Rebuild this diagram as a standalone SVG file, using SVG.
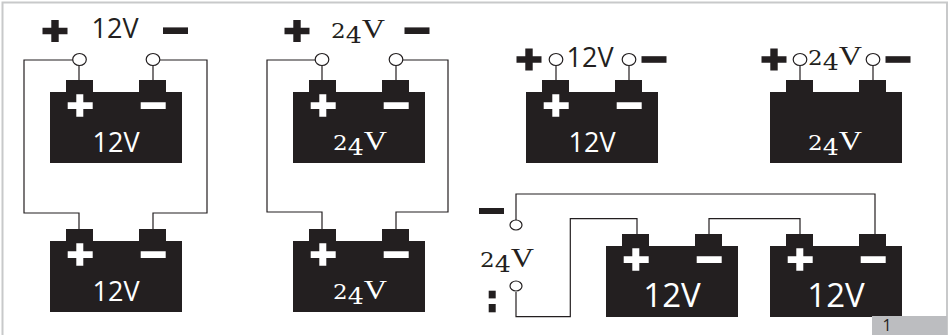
<svg xmlns="http://www.w3.org/2000/svg" width="948" height="335" viewBox="0 0 948 335">
<style>
.w{fill:none;stroke:#231f20;stroke-width:1.2}
.c{fill:#fff;stroke:#231f20;stroke-width:1.2}
.k{fill:#231f20}
.wf{fill:#fff}
text{font-family:"Open Sans","Noto Sans",sans-serif;font-size:27px;fill:#231f20;text-anchor:middle}
.s{font-family:"Liberation Serif",serif;font-size:28px;text-anchor:start}
.a{font-family:"DejaVu Serif",serif;font-size:20px}
.b{font-family:"DejaVu Serif",serif;font-size:22px}
.wt{fill:#fff}
</style>
<defs>
<path id="batt" d="M0 12H16V0H43V12H89V0H116V12H132V83H0Z" class="k"/>
<path id="signs" d="M26.300 14.300H33.300V22.300H42.700V29H33.300V36.700H26.300V29H17.700V22.300H26.300Z M90.700 22.300H115.700V29H90.700Z" class="wf"/>
<path id="plus" d="M-3.700 -11H3.700V-3.300H12.500V3.300H3.700V11H-3.700V3.300H-12.500V-3.300H-3.700Z" class="k"/>
<rect id="minus" x="-12.500" y="-3.300" width="25" height="6.600" class="k"/>
</defs>
<rect x="2.500" y="2.500" width="944.500" height="340" fill="#fff" stroke="#c8c9ca" stroke-width="2"/>
<g id="connectors">
<path class="w" d="M73 60H24V213H79V229"/>
<path class="w" d="M160 60H207V213H153V229"/>
<path class="w" d="M79 60V80M153 60V80"/>
<path class="w" d="M316 60H267V212H322V229"/>
<path class="w" d="M403 60H448V212H396V229"/>
<path class="w" d="M322 60V80M396 60V80"/>
<path class="w" d="M556 60V80M629 60V80M800 60V80M873 60V80"/>
<path class="w" d="M516 224V194H875V234"/>
<path class="w" d="M516 292V316.700H570.300V218.700H637V234"/>
<path class="w" d="M709 234V218.700H800V234"/>
</g>
<g id="terminals">
<ellipse class="c" cx="79.500" cy="59.500" rx="6.800" ry="6"/><ellipse class="c" cx="153" cy="59.500" rx="6.800" ry="6"/>
<ellipse class="c" cx="322" cy="59.500" rx="6.800" ry="6"/><ellipse class="c" cx="396" cy="59.500" rx="6.800" ry="6"/>
<ellipse class="c" cx="556" cy="59.500" rx="6.800" ry="6"/><ellipse class="c" cx="629" cy="59.500" rx="6.800" ry="6"/>
<ellipse class="c" cx="800" cy="59.500" rx="6.800" ry="6"/><ellipse class="c" cx="873" cy="59.500" rx="6.800" ry="6"/>
<ellipse class="c" cx="516" cy="225" rx="6" ry="5"/><ellipse class="c" cx="516" cy="286" rx="6" ry="5"/>
</g>
<g id="label-a"><use href="#plus" x="55" y="31"/><text x="115" y="38">12V</text><use href="#minus" x="175.500" y="30.700"/></g>
<g id="label-b"><use href="#plus" x="297" y="31"/><text class="s" transform="translate(331 38) scale(1.15 1)"><tspan class="a">2</tspan><tspan class="b" dy="5">4</tspan><tspan dy="-5">V</tspan></text><use href="#minus" x="417" y="30.700"/></g>
<g id="label-c"><use href="#plus" x="529" y="59.500"/><text x="590" y="67">12V</text><use href="#minus" x="654" y="59.500"/></g>
<g id="label-d"><use href="#plus" x="774" y="59.500"/><text class="s" transform="translate(808 65) scale(1.15 1)"><tspan class="a">2</tspan><tspan class="b" dy="5">4</tspan><tspan dy="-5">V</tspan></text><use href="#minus" x="898" y="59.500"/></g>
<g id="label-e"><rect x="479" y="208" width="25" height="6" class="k"/><text class="s" transform="translate(480 267) scale(1.15 1)"><tspan class="a">2</tspan><tspan class="b" dy="5">4</tspan><tspan dy="-5">V</tspan></text><rect x="488.700" y="290.700" width="7" height="7.700" class="k"/><rect x="488.700" y="304" width="7" height="8.300" class="k"/></g>
<g id="battery-1"><use href="#batt" x="50" y="80"/><use href="#signs" x="50" y="80"/><text class="wt" x="116" y="152">12V</text></g>
<g id="battery-2"><use href="#batt" x="50" y="229"/><use href="#signs" x="50" y="229"/><text class="wt" x="116" y="301">12V</text></g>
<g id="battery-3"><use href="#batt" x="293" y="80"/><use href="#signs" x="293" y="80"/><text class="s wt" transform="translate(333 150) scale(1.15 1)"><tspan class="a">2</tspan><tspan class="b" dy="5">4</tspan><tspan dy="-5">V</tspan></text></g>
<g id="battery-4"><use href="#batt" x="293" y="229"/><use href="#signs" x="293" y="229"/><text class="s wt" transform="translate(333 299) scale(1.15 1)"><tspan class="a">2</tspan><tspan class="b" dy="5">4</tspan><tspan dy="-5">V</tspan></text></g>
<g id="battery-5"><use href="#batt" x="526" y="80"/><use href="#signs" x="526" y="80"/><text class="wt" x="592" y="152">12V</text></g>
<g id="battery-6"><use href="#batt" x="770" y="80"/><text class="s wt" transform="translate(808 150) scale(1.15 1)"><tspan class="a">2</tspan><tspan class="b" dy="5">4</tspan><tspan dy="-5">V</tspan></text></g>
<g id="battery-7"><use href="#batt" x="606" y="234"/><use href="#signs" x="606" y="234"/><text class="wt" style="font-size:33px" x="672" y="307">12V</text></g>
<g id="battery-8"><use href="#batt" x="770" y="234"/><use href="#signs" x="770" y="234"/><text class="wt" style="font-size:33px" x="836" y="307">12V</text></g>
<g id="tab"><rect x="872" y="316" width="75" height="19" fill="#bcbdc0"/><text style="font-size:16px" x="887" y="331">1</text></g>
</svg>
